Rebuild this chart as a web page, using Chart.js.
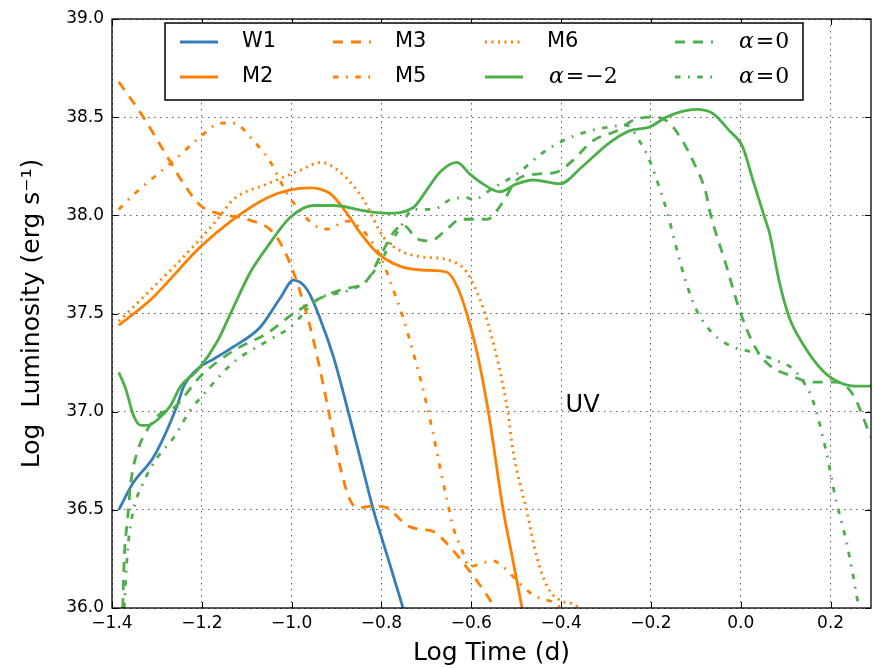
<!DOCTYPE html>
<html>
<head>
<meta charset="utf-8">
<script src="https://cdn.jsdelivr.net/npm/chart.js@4.4.0/dist/chart.umd.min.js"></script>
<style>
  html, body { margin: 0; padding: 0; background: #fff; }
  #wrap { width: 874px; height: 668px; }
</style>
</head>
<body>
<div id="wrap"><canvas id="uv-chart" width="874" height="668"></canvas></div>
<script>
// Axis ticks
const xTicks = [-1.4, -1.2, -1.0, -0.8, -0.6, -0.4, -0.2, 0.0, 0.2];
const yTicks = [36.0, 36.5, 37.0, 37.5, 38.0, 38.5, 39.0];

// Light curves: log time (d) vs log luminosity
const w1X = [-1.385, -1.352, -1.307, -1.255, -1.24, -1.203, -1.18, -1.13, -1.07, -1.025, -0.996, -0.965, -0.936, -0.907, -0.874, -0.847, -0.818, -0.785, -0.752];
const w1Y = [36.50, 36.64, 36.77, 37.03, 37.13, 37.23, 37.26, 37.33, 37.43, 37.58, 37.67, 37.62, 37.47, 37.28, 37.00, 36.76, 36.50, 36.25, 36.00];

const m2X = [-1.385, -1.314, -1.203, -1.13, -1.054, -1.003, -0.959, -0.914, -0.877, -0.847, -0.81, -0.758, -0.70, -0.654, -0.63, -0.61, -0.587, -0.562, -0.529, -0.507, -0.487];
const m2Y = [37.44, 37.57, 37.84, 37.98, 38.09, 38.13, 38.14, 38.11, 38.01, 37.91, 37.81, 37.74, 37.72, 37.71, 37.63, 37.50, 37.30, 37.00, 36.50, 36.24, 36.00];

const m3X = [-1.385, -1.33, -1.285, -1.24, -1.203, -1.165, -1.099, -1.04, -1.01, -0.996, -0.973, -0.951, -0.929, -0.892, -0.87, -0.852, -0.818, -0.787, -0.743, -0.714, -0.685, -0.647, -0.618, -0.588, -0.558, -0.547];
const m3Y = [38.68, 38.50, 38.33, 38.16, 38.05, 38.01, 37.98, 37.91, 37.79, 37.71, 37.55, 37.36, 37.13, 36.72, 36.55, 36.51, 36.52, 36.51, 36.42, 36.40, 36.39, 36.31, 36.23, 36.14, 36.04, 36.00];

const m5X = [-1.385, -1.35, -1.314, -1.262, -1.203, -1.158, -1.13, -1.085, -1.047, -1.01, -0.98, -0.95, -0.92, -0.877, -0.84, -0.80, -0.78, -0.752, -0.729, -0.707, -0.685, -0.67, -0.654, -0.64, -0.618, -0.605, -0.574, -0.552, -0.529, -0.507, -0.47, -0.447, -0.418, -0.40];
const m5Y = [38.03, 38.11, 38.18, 38.28, 38.40, 38.47, 38.47, 38.38, 38.27, 38.11, 38.02, 37.95, 37.93, 37.97, 37.92, 37.78, 37.66, 37.48, 37.30, 37.11, 36.89, 36.72, 36.55, 36.41, 36.28, 36.21, 36.23, 36.24, 36.21, 36.16, 36.08, 36.05, 36.03, 36.00];

const m6X = [-1.385, -1.314, -1.24, -1.165, -1.13, -1.054, -0.98, -0.936, -0.892, -0.84, -0.796, -0.758, -0.714, -0.647, -0.61, -0.574, -0.552, -0.529, -0.518, -0.507, -0.477, -0.454, -0.431, -0.403, -0.374, -0.36];
const m6Y = [37.46, 37.62, 37.79, 37.98, 38.08, 38.16, 38.23, 38.27, 38.22, 38.08, 37.89, 37.82, 37.79, 37.77, 37.71, 37.53, 37.36, 37.13, 36.99, 36.80, 36.50, 36.26, 36.11, 36.04, 36.02, 36.00];

const aM2X = [-1.385, -1.37, -1.352, -1.335, -1.321, -1.298, -1.27, -1.247, -1.21, -1.165, -1.13, -1.092, -1.054, -1.003, -0.951, -0.907, -0.832, -0.787, -0.729, -0.699, -0.67, -0.632, -0.603, -0.574, -0.536, -0.499, -0.462, -0.403, -0.352, -0.292, -0.248, -0.203, -0.166, -0.13, -0.099, -0.063, -0.025, 0.004, 0.027, 0.053, 0.064, 0.086, 0.108, 0.137, 0.182, 0.219, 0.256, 0.29];
const aM2Y = [37.20, 37.12, 36.98, 36.93, 36.93, 36.96, 37.03, 37.13, 37.21, 37.36, 37.53, 37.71, 37.84, 37.99, 38.05, 38.05, 38.02, 38.01, 38.04, 38.13, 38.22, 38.27, 38.21, 38.16, 38.12, 38.16, 38.18, 38.16, 38.25, 38.37, 38.43, 38.45, 38.50, 38.53, 38.54, 38.52, 38.43, 38.35, 38.18, 37.99, 37.91, 37.66, 37.48, 37.35, 37.21, 37.15, 37.13, 37.13];

const a0dX = [-1.376, -1.373, -1.365, -1.358, -1.343, -1.321, -1.292, -1.262, -1.203, -1.13, -1.054, -0.996, -0.943, -0.892, -0.832, -0.803, -0.774, -0.752, -0.72, -0.692, -0.654, -0.625, -0.565, -0.529, -0.499, -0.454, -0.41, -0.374, -0.329, -0.277, -0.233, -0.188, -0.159, -0.13, -0.107, -0.077, -0.07, -0.033, -0.003, 0.027, 0.057, 0.115, 0.16, 0.212, 0.249, 0.29];
const a0dY = [36.00, 36.24, 36.46, 36.64, 36.80, 36.91, 36.99, 37.02, 37.18, 37.31, 37.40, 37.50, 37.57, 37.62, 37.67, 37.79, 37.91, 37.95, 37.88, 37.87, 37.93, 37.98, 37.98, 38.07, 38.18, 38.21, 38.22, 38.28, 38.38, 38.43, 38.49, 38.50, 38.47, 38.38, 38.28, 38.11, 38.03, 37.75, 37.52, 37.35, 37.25, 37.18, 37.15, 37.15, 37.09, 36.87];

const a0ddX = [-1.373, -1.365, -1.352, -1.33, -1.298, -1.262, -1.225, -1.203, -1.13, -1.054, -1.003, -0.943, -0.87, -0.832, -0.796, -0.758, -0.729, -0.685, -0.647, -0.61, -0.596, -0.551, -0.499, -0.44, -0.396, -0.336, -0.292, -0.255, -0.226, -0.203, -0.181, -0.163, -0.144, -0.122, -0.099, -0.063, -0.018, 0.034, 0.079, 0.115, 0.137, 0.16, 0.19, 0.212, 0.234, 0.249, 0.26, 0.265];
const a0ddY = [36.00, 36.30, 36.50, 36.64, 36.77, 36.87, 37.01, 37.07, 37.25, 37.36, 37.43, 37.57, 37.62, 37.67, 37.79, 37.94, 38.03, 38.03, 38.08, 38.09, 38.08, 38.14, 38.21, 38.32, 38.38, 38.43, 38.45, 38.46, 38.38, 38.28, 38.14, 38.01, 37.84, 37.66, 37.52, 37.40, 37.33, 37.30, 37.26, 37.22, 37.16, 37.06, 36.80, 36.55, 36.35, 36.18, 36.04, 36.00];

const BLUE = '#377eb8', ORANGE = '#ff7f00', GREEN = '#4daf4a';
const DASHED = [10, 8], DASHDOT = [5.5, 7.5, 1.8, 7.5], DOTTED = [2, 4.5];

function pts(xs, ys) {
    return xs.map((x, i) => ({ x: x, y: ys[i] }));
}

function series(label, xs, ys, color, dash, i) {
    return {
        label: label,
        data: pts(xs, ys),
        borderColor: color,
        backgroundColor: color,
        borderWidth: 2.8,
        borderDash: dash,
        borderCapStyle: 'butt',
        pointRadius: 0,
        fill: false,
        cubicInterpolationMode: 'monotone',
        clip: 0,
        order: 20 - i   // later series on top, as in the original
    };
}

const datasets = [
    series('W1', w1X, w1Y, BLUE, [], 0),
    series('M2', m2X, m2Y, ORANGE, [], 1),
    series('M3', m3X, m3Y, ORANGE, DASHED, 2),
    series('M5', m5X, m5Y, ORANGE, DASHDOT, 3),
    series('M6', m6X, m6Y, ORANGE, DOTTED, 4),
    series('α=−2', aM2X, aM2Y, GREEN, [], 5),
    series('α=0', a0dX, a0dY, GREEN, DASHED, 6),
    series('α=0', a0ddX, a0ddY, GREEN, DASHDOT, 7)
];

function fmt(v) {
    return (v < 0 ? '\u2212' : '') + Math.abs(v).toFixed(1);
}

// legend layout (column-major, 2 rows)
const legendBox = { left: 165, top: 23, width: 638, height: 77 };
const legendCols = [180, 333, 485, 675];
const legendRows = [42, 77];

function drawMathLabel(ctx, text, x, y) {
    const rest = text.slice(2);
    ctx.font = 'italic 22px "DejaVu Serif"';
    ctx.fillText('α', x, y);
    x += ctx.measureText('α').width + 2;
    ctx.font = '22px "DejaVu Serif"';
    ctx.fillText('=', x, y);
    x += ctx.measureText('=').width + 1;
    ctx.fillText(rest, x, y);
}

const extras = {
    id: 'extras',
    afterDatasetsDraw(chart) {
        const ctx = chart.ctx;
        const a = chart.chartArea;
        const xs = chart.scales.x, ys = chart.scales.y;
        ctx.save();

        // text label inside the plot
        ctx.fillStyle = '#000';
        ctx.font = '24px "DejaVu Sans"';
        ctx.textBaseline = 'alphabetic';
        ctx.textAlign = 'left';
        ctx.fillText('UV', xs.getPixelForValue(-0.39), ys.getPixelForValue(37.0));

        // frame and inward ticks
        ctx.strokeStyle = '#000';
        ctx.lineWidth = 1.3;
        ctx.setLineDash([]);
        ctx.strokeRect(a.left, a.top, a.right - a.left, a.bottom - a.top);
        ctx.lineWidth = 1;
        ctx.beginPath();
        xTicks.forEach(v => {
            const p = Math.round(xs.getPixelForValue(v)) + 0.5;
            ctx.moveTo(p, a.bottom); ctx.lineTo(p, a.bottom - 6);
            ctx.moveTo(p, a.top); ctx.lineTo(p, a.top + 6);
        });
        yTicks.forEach(v => {
            const p = Math.round(ys.getPixelForValue(v)) + 0.5;
            ctx.moveTo(a.left, p); ctx.lineTo(a.left + 6, p);
            ctx.moveTo(a.right, p); ctx.lineTo(a.right - 6, p);
        });
        ctx.stroke();

        // legend
        ctx.fillStyle = '#fff';
        ctx.fillRect(legendBox.left, legendBox.top, legendBox.width, legendBox.height);
        ctx.lineWidth = 1.5;
        ctx.strokeRect(legendBox.left, legendBox.top, legendBox.width, legendBox.height);
        chart.data.datasets.forEach((ds, i) => {
            const x0 = legendCols[Math.floor(i / 2)];
            const y = legendRows[i % 2];
            ctx.strokeStyle = ds.borderColor;
            ctx.lineWidth = ds.borderWidth;
            ctx.lineCap = 'butt';
            ctx.setLineDash(ds.borderDash);
            ctx.beginPath();
            ctx.moveTo(x0, y);
            ctx.lineTo(x0 + 38, y);
            ctx.stroke();
            ctx.setLineDash([]);
            ctx.fillStyle = '#000';
            ctx.textBaseline = 'middle';
            if (ds.label.startsWith('α')) {
                drawMathLabel(ctx, ds.label, x0 + 64, y);
            } else {
                ctx.font = '21px "DejaVu Sans"';
                ctx.fillText(ds.label, x0 + 62, y);
            }
        });
        ctx.restore();
    }
};

const tickFont = { family: 'DejaVu Sans', size: 17 };
const titleFont = { family: 'DejaVu Sans', size: 25 };

new Chart(document.getElementById('uv-chart').getContext('2d'), {
    type: 'line',
    data: { datasets: datasets },
    options: {
        responsive: false,
        animation: false,
        devicePixelRatio: 1,
        layout: { padding: { top: 19, right: 3, bottom: 0, left: 0 } },
        plugins: {
            legend: { display: false },
            tooltip: { enabled: false }
        },
        scales: {
            x: {
                type: 'linear',
                min: -1.4,
                max: 0.29,
                afterBuildTicks: s => { s.ticks = xTicks.map(v => ({ value: v })); },
                afterFit: s => { s.height = 60; },
                ticks: { callback: v => fmt(v), font: tickFont, color: '#000', padding: 5, maxRotation: 0, autoSkip: false },
                grid: { color: 'rgba(0,0,0,0.65)', lineWidth: 1, drawTicks: false },
                border: { display: false, dash: [1.5, 4.5] },
                title: { display: true, text: 'Log Time (d)', font: titleFont, color: '#000', padding: { top: 0, bottom: 0 } }
            },
            y: {
                type: 'linear',
                min: 36,
                max: 39,
                afterBuildTicks: s => { s.ticks = yTicks.map(v => ({ value: v })); },
                afterFit: s => { s.width = 112; },
                ticks: { callback: v => v.toFixed(1), font: tickFont, color: '#000', padding: 8, autoSkip: false },
                grid: { color: 'rgba(0,0,0,0.65)', lineWidth: 1, drawTicks: false },
                border: { display: false, dash: [1.5, 4.5] },
                title: { display: true, text: 'Log  Luminosity (erg s\u207B\u00B9)', font: titleFont, color: '#000', padding: { top: 17, bottom: 0 } }
            }
        }
    },
    plugins: [extras]
});
</script>
</body>
</html>
